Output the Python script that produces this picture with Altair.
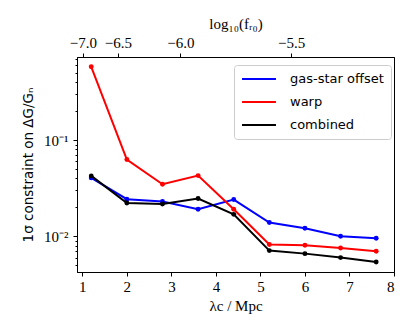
import altair as alt
import pandas as pd

# data
lam = [1.2, 2.0, 2.8, 3.6, 4.4, 5.2, 6.0, 6.8, 7.6]
gas_star = [0.0405, 0.0243, 0.0230, 0.0191, 0.0241, 0.0139, 0.0121, 0.0100, 0.00953]
warp = [0.580, 0.0629, 0.0348, 0.0428, 0.0191, 0.0082, 0.00806, 0.00755, 0.00698]
combined = [0.0425, 0.0222, 0.0217, 0.0247, 0.0169, 0.0071, 0.0066, 0.0060, 0.0054]
series = ["gas-star offset", "warp", "combined"]
colors = ["#0000ff", "#ff0000", "#000000"]
top_ticks = [-7.0, -6.5, -6.0, -5.5]
y_ticks = [0.005, 0.006, 0.007, 0.008, 0.009, 0.01, 0.02, 0.03, 0.04, 0.05,
           0.06, 0.07, 0.08, 0.09, 0.1, 0.2, 0.3, 0.4, 0.5, 0.6, 0.7]

x_domain = [0.88, 8.0]
y_domain = [0.00425, 0.733]

# lambda_c = 32 Mpc * sqrt(f_R0 / 1e-4)
top_lam = [32.0 * (10 ** t / 1e-4) ** 0.5 for t in top_ticks]

rows = []
for name, vals in zip(series, [gas_star, warp, combined]):
    for x, v in zip(lam, vals):
        rows.append({"lam": x, "val": v, "series": name})
df = pd.DataFrame(rows)

serif = "Liberation Serif"
sans = "DejaVu Sans"

is_major = "abs(log(datum.value)/LN10 - round(log(datum.value)/LN10)) < 0.001"

color = alt.Color(
    "series:N",
    scale=alt.Scale(domain=series, range=colors),
    legend=alt.Legend(
        title=None, orient="none", legendX=157, legendY=8,
        symbolType="M-3,0H3", symbolSize=128, symbolStrokeWidth=2,
        symbolOffset=11,
        labelFont=sans, labelFontSize=13, labelColor="black",
        labelOffset=24, rowPadding=9, padding=7,
        strokeColor="#cccccc", fillColor="white", cornerRadius=3,
        labelLimit=200,
    ),
)

x_enc = alt.X(
    "lam:Q",
    scale=alt.Scale(domain=x_domain, nice=False, zero=False),
    axis=alt.Axis(
        values=[1, 2, 3, 4, 5, 6, 7, 8], format="d", title="λc / Mpc",
        labelFont=serif, labelFontSize=15, titleFont=serif, titleFontSize=15,
        titleFontWeight="normal", tickSize=4, labelPadding=3, titlePadding=4,
        grid=False,
    ),
)
y_enc = alt.Y(
    "val:Q",
    scale=alt.Scale(type="log", domain=y_domain, nice=False),
    axis=alt.Axis(
        values=y_ticks,
        labelExpr="abs(log(datum.value)/LN10 + 1) < 0.001 ? '10⁻¹' : (abs(log(datum.value)/LN10 + 2) < 0.001 ? '10⁻²' : '')",
        tickSize={"condition": {"test": is_major, "value": 4}, "value": 2},
        title="1σ constraint on ΔG/Gₙ",
        labelFont=serif, labelFontSize=15, titleFont=sans, titleFontSize=13.5,
        titleFontWeight="normal", labelPadding=5, titlePadding=8, grid=False,
    ),
)

layers = []
for name in series:
    layers.append(
        alt.Chart(df)
        .transform_filter(alt.datum.series == name)
        .mark_line(strokeWidth=2, point=alt.OverlayMarkDef(size=24, filled=True, opacity=1))
        .encode(x=x_enc, y=y_enc, color=color, order="lam:Q")
    )
main = alt.layer(*layers)

top_df = pd.DataFrame({"lam_top": top_lam})
top = alt.Chart(top_df).mark_point(opacity=0).encode(
    x=alt.X(
        "lam_top:Q",
        scale=alt.Scale(domain=x_domain, nice=False, zero=False),
        axis=alt.Axis(
            orient="top", values=top_lam,
            labelExpr="replace(format(2*log(datum.value/32)/LN10 - 4, '.1f'), '-', '−')",
            title="log₁₀(fᵣ₀)", labelFont=serif, labelFontSize=15,
            titleFont=serif, titleFontSize=15, titleFontWeight="normal",
            tickSize=4, labelPadding=3, titlePadding=4, grid=False,
        ),
    ),
    y=alt.value(0),
)

chart = (
    alt.layer(main, top)
    .resolve_scale(x="independent")
    .properties(
        width=317, height=215,
        autosize=alt.AutoSizeParams(type="none"),
        padding={"left": 69, "top": 49, "right": 13, "bottom": 53},
    )
    .configure_view(stroke="black", strokeWidth=1)
    .configure_axis(domainColor="black", tickColor="black", labelColor="black",
                    titleColor="black", domainWidth=1, tickWidth=1)
)

chart.save("out.html", embed_options={"renderer": "svg", "actions": False})
